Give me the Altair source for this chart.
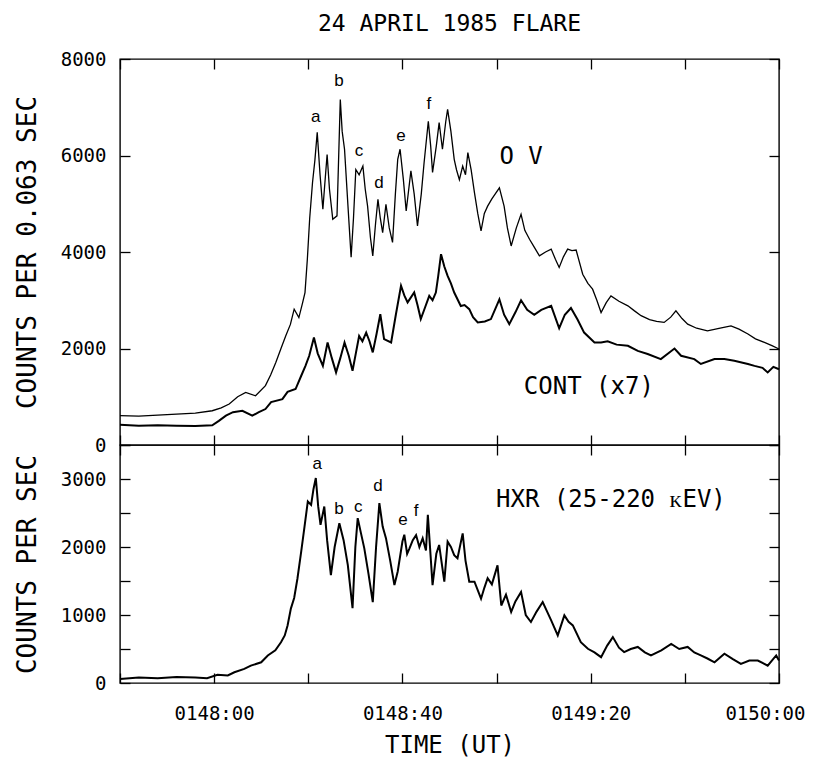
import altair as alt
import pandas as pd

# time axis: seconds after 01:47:40 UT
ov = [(0, 610), (4, 600), (8, 620), (12, 640), (16, 660), (19.6, 710), (21.5, 770), (23.2, 850),
      (25, 1000), (26.7, 1090), (28.8, 1020), (30.9, 1230), (32, 1450), (33.1, 1710), (34.2, 2000),
      (35.2, 2260), (36.2, 2500), (37, 2815), (38, 2640), (38.8, 2950), (39.3, 3160), (39.8, 3850),
      (40.3, 4700), (40.9, 5440), (41.4, 5900), (41.9, 6480), (42.5, 5600), (43.1, 4885), (43.5, 5400),
      (44, 6020), (44.5, 5300), (45.2, 4680), (46.1, 4750), (46.8, 7160), (47.2, 6500), (47.7, 6130),
      (48.4, 5000), (49.1, 3890), (49.6, 4700), (50.1, 5710), (50.8, 5600), (51.6, 5780), (52.1, 5300),
      (52.6, 4950), (53.2, 4300), (53.7, 3920), (54.3, 4600), (54.8, 5090), (55.3, 4700), (55.8, 4400),
      (56.5, 4990), (57.2, 4500), (57.9, 4200), (58.5, 5200), (59.0, 5920), (59.5, 6130), (60.2, 5500),
      (60.8, 4850), (61.8, 5680), (62.5, 5200), (63.2, 4540), (64.0, 5200), (64.6, 5850), (65.5, 6710),
      (66.0, 6200), (66.4, 5650), (67.2, 6200), (67.8, 6680), (68.5, 6130), (69.2, 6700), (69.6, 6955),
      (70.3, 6500), (71.0, 5920), (71.5, 5700), (72.1, 5500), (72.8, 5780), (73.4, 5600), (73.9, 6060),
      (74.6, 5700), (75.3, 5230), (76.0, 4800), (76.7, 4440), (77.4, 4800), (78.1, 4950), (79.0, 5100),
      (80.6, 5330), (81.6, 4950), (82.3, 4500), (83.1, 4125), (84.2, 4500), (85.2, 4780), (86.0, 4450),
      (87.0, 4265), (88.0, 4100), (89.1, 3920), (90.4, 4000), (91.6, 4060), (92.5, 3850), (93.3, 3680),
      (94.2, 3900), (95.1, 4060), (96.0, 4030), (96.9, 4040), (98.3, 3540), (99.4, 3350), (100.4, 3230),
      (101.3, 3000), (102.2, 2745), (103.3, 2950), (104.3, 3090), (106.0, 2980), (107.9, 2885),
      (109.3, 2780), (110.7, 2680), (112.5, 2600), (114.0, 2560), (115.6, 2540), (117.0, 2650),
      (118.1, 2780), (119.4, 2620), (120.6, 2505), (122.5, 2420), (124.8, 2365), (127.5, 2420),
      (129.8, 2470), (131.5, 2400), (133.4, 2300), (135.0, 2200), (136.9, 2125), (138.5, 2060), (140, 1990)]

cont = [(0, 420), (4, 400), (8, 410), (12, 400), (16, 395), (19.6, 410), (21, 500), (22.5, 607), (24, 680),
        (26, 710), (28.1, 607), (29.5, 680), (30.9, 745), (32.1, 890), (34.5, 950), (35.6, 1100), (37.3, 1160),
        (38.5, 1435), (39.4, 1640), (40.2, 1850), (41.2, 2230), (42, 1900), (43.1, 1640), (44.1, 2125),
        (45, 1800), (45.9, 1505), (46.8, 1800), (47.7, 2125), (48.6, 1850), (49.4, 1540), (50.1, 1900),
        (50.8, 2260), (51.5, 2150), (52.3, 2330), (53, 2150), (53.7, 1920), (54.5, 2300), (55.3, 2710),
        (56.1, 2195), (57.6, 2125), (58.6, 2700), (59.7, 3300), (60.4, 3100), (61.1, 2955), (62.5, 3160),
        (63.2, 2900), (63.9, 2610), (64.8, 2850), (65.7, 3090), (66.4, 3000), (67.1, 3160), (67.6, 3500),
        (68.2, 3955), (68.9, 3700), (69.6, 3505), (70.3, 3350), (71, 3160), (72.4, 2880), (73.2, 2900),
        (74.2, 2815), (75, 2650), (76, 2540), (77.5, 2560), (78.8, 2610), (80.6, 3020), (81.6, 2700),
        (82.7, 2505), (84, 2750), (85.2, 3000), (86.5, 2800), (88, 2700), (89.5, 2800), (91.6, 2885),
        (93.3, 2420), (94.5, 2700), (95.8, 2840), (97.2, 2600), (98.6, 2330), (100.8, 2125), (102.2, 2125),
        (103.6, 2150), (105.5, 2080), (107.9, 2055), (110, 1950), (112.1, 1885), (114.9, 1780), (117.8, 2000),
        (119.2, 1850), (122, 1780), (123.4, 1680), (126.3, 1780), (128.4, 1780), (130.5, 1745), (133.4, 1680),
        (134.8, 1640), (136.5, 1600), (137.6, 1505), (138.8, 1620), (140, 1570)]

hxr = [(0, 60), (4, 80), (8, 70), (12, 90), (16, 80), (18.5, 70), (20.7, 120), (22.9, 110), (24.3, 158),
       (26.4, 207), (27.8, 256), (30, 305), (31.4, 404), (33, 480), (34.2, 600), (35, 700), (35.6, 847),
       (36.3, 1094), (37, 1250), (37.7, 1537), (38.5, 1935), (39.2, 2300), (39.9, 2670), (40.6, 2620),
       (41.1, 2850), (41.6, 3015), (42.1, 2600), (42.6, 2325), (43.4, 2595), (44, 2100), (44.8, 1585),
       (45.6, 2000), (46.6, 2350), (47.5, 2100), (48.4, 1735), (49.4, 1100), (50, 2000), (50.5, 2425),
       (51.2, 2200), (51.9, 1980), (52.8, 1600), (53.7, 1190), (54.4, 2000), (55.1, 2645), (55.8, 2300),
       (56.5, 2130), (57.4, 1800), (58.3, 1440), (59, 1640), (60, 2080), (60.4, 2180), (61, 1900),
       (61.5, 1980), (62.2, 2100), (62.9, 2175), (63.6, 2000), (64.3, 2130), (65, 1950), (65.4, 2475),
       (66.4, 1440), (67.2, 1900), (67.8, 2030), (68.9, 1490), (69.6, 2080), (70.3, 2000), (71, 1880),
       (71.7, 1835), (72.8, 2200), (73.4, 1800), (74.2, 1490), (75.3, 1490), (76.7, 1240), (77.4, 1400),
       (78.1, 1540), (79, 1450), (80.2, 1730), (81, 1140), (82, 1300), (83.1, 1045), (84, 1200), (85.2, 1340),
       (86.2, 1000), (87.3, 897), (88.5, 1050), (89.8, 1190), (91.6, 920), (93, 700), (94.4, 995), (95.3, 900),
       (96.2, 847), (97.9, 600), (99.4, 503), (100.8, 450), (102.2, 380), (103.5, 550), (104.7, 675),
       (106, 520), (107.1, 455), (108.5, 500), (110, 530), (111.5, 450), (112.8, 405), (115, 480),
       (117.1, 575), (118.8, 500), (120.6, 530), (122, 450), (123.4, 405), (124.8, 360), (126.3, 305),
       (128.4, 430), (130.2, 350), (131.9, 280), (133.7, 330), (135.5, 330), (137.6, 255), (139.4, 405),
       (140, 330)]

top_letters = ["a", "b", "c", "d", "e", "f"]
top_letter_t = [41.6, 46.5, 50.8, 55.0, 59.7, 65.6]
top_letter_v = [6790, 7535, 6085, 5440, 6400, 7060]
bot_letters = ["a", "b", "c", "d", "e", "f"]
bot_letter_t = [41.9, 46.5, 50.6, 54.8, 60.1, 62.9]
bot_letter_v = [3220, 2555, 2590, 2900, 2395, 2530]

top_labels = ["O V", "CONT (x7)"]
top_label_t = [85.2, 99.6]
top_label_v = [5960, 1200]
bot_labels = ["HXR (25-220 \u1d0bEV)"]
bot_label_t = [104.3]
bot_label_v = [2690]

x_ticks = [0, 20, 40, 60, 80, 100, 120, 140]
x_tick_labels = ["", "0148:00", "", "0148:40", "", "0149:20", "", "0150:00"]
top_y_ticks = [0, 2000, 4000, 6000, 8000]
bot_y_ticks = [0, 500, 1000, 1500, 2000, 2500, 3000, 3500]
bot_y_tick_labels = ["0", "", "1000", "", "2000", "", "3000", ""]

MONO = "DejaVu Sans Mono"
SANS = "Liberation Sans"
W, H_TOP, H_BOT, TL = 659, 386, 238, 10

df_ov = pd.DataFrame(ov, columns=["t", "v"])
df_cont = pd.DataFrame(cont, columns=["t", "v"])
df_hxr = pd.DataFrame(hxr, columns=["t", "v"])
df_tl = pd.DataFrame({"t": top_letter_t, "v": top_letter_v, "s": top_letters})
df_bl = pd.DataFrame({"t": bot_letter_t, "v": bot_letter_v, "s": bot_letters})
df_tlab = pd.DataFrame({"t": top_label_t, "v": top_label_v, "s": top_labels})
df_blab = pd.DataFrame({"t": bot_label_t, "v": bot_label_v, "s": bot_labels})

xs = alt.Scale(domain=[0, 140], nice=False, zero=False)
ys_top = alt.Scale(domain=[0, 8000], nice=False)
ys_bot = alt.Scale(domain=[0, 3500], nice=False)

x_label_expr = "[" + ",".join("'%s'" % s for s in x_tick_labels) + "][round(datum.value/20)]"
by_label_expr = "[" + ",".join("'%s'" % s for s in bot_y_tick_labels) + "][round(datum.value/500)]"

ax_common = dict(ticks=False, domain=False, grid=False, labelFont=MONO, labelFontSize=19, labelColor="black",
                 titleFont=MONO, titleFontWeight="normal", titleColor="black")


def tick_axis(orient, values):
    # outward ticks on an axis pulled inside the frame by their own length -> inward ticks
    return alt.Axis(orient=orient, values=values, labels=False, domain=False, grid=False, ticks=True,
                    tickSize=TL, tickWidth=1.3, tickColor="black", offset=-TL, title=None, zindex=1)


top_y_lab = alt.Axis(orient="left", values=top_y_ticks, format="d", labelPadding=14,
                     title="COUNTS PER 0.063 SEC", titleFontSize=26, titlePadding=20, **ax_common)
bot_y_lab = alt.Axis(orient="left", values=bot_y_ticks, labelExpr=by_label_expr, labelPadding=14,
                     title="COUNTS PER SEC", titleFontSize=26, titlePadding=20, **ax_common)
bot_x_lab = alt.Axis(orient="bottom", values=x_ticks, labelExpr=x_label_expr, labelPadding=21,
                     labelFlush=True, labelFlushOffset=26,
                     title="TIME (UT)", titleFontSize=24, titlePadding=10, **ax_common)


def enc(ys, x_axis, y_axis):
    return dict(x=alt.X("t:Q", scale=xs, axis=x_axis), y=alt.Y("v:Q", scale=ys, axis=y_axis))


def line(df, width, ys, x_axis, y_axis):
    return alt.Chart(df).mark_line(color="black", strokeWidth=width).encode(**enc(ys, x_axis, y_axis))


def texts(df, font, size, ys, x_axis=None, y_axis=None):
    return alt.Chart(df).mark_text(font=font, fontSize=size, color="black", baseline="middle",
                                   align="center").encode(text="s:N", **enc(ys, x_axis, y_axis))


top = alt.layer(
    line(df_ov, 1.3, ys_top, tick_axis("bottom", x_ticks), top_y_lab),
    line(df_cont, 2.0, ys_top, tick_axis("top", x_ticks), tick_axis("left", top_y_ticks)),
    texts(df_tl, SANS, 17, ys_top, None, tick_axis("right", top_y_ticks)),
    texts(df_tlab, MONO, 24, ys_top),
).resolve_axis(x="independent", y="independent").properties(
    width=W, height=H_TOP,
    title=alt.TitleParams("24 APRIL 1985 FLARE", font=MONO, fontSize=23, fontWeight="normal", color="black",
                          anchor="middle", frame="group", offset=14),
)

bottom = alt.layer(
    line(df_hxr, 2.0, ys_bot, bot_x_lab, bot_y_lab),
    texts(df_bl, SANS, 17, ys_bot, tick_axis("bottom", x_ticks), tick_axis("left", bot_y_ticks)),
    texts(df_blab, MONO, 24, ys_bot, tick_axis("top", x_ticks), tick_axis("right", bot_y_ticks)),
).resolve_axis(x="independent", y="independent").properties(width=W, height=H_BOT)

chart = alt.vconcat(top, bottom, spacing=0, bounds="flush").properties(
    padding={"left": 5, "top": 4, "right": 0, "bottom": 0}
).configure_view(stroke="black", strokeWidth=1.4)

chart.save("out.html", embed_options={"renderer": "svg", "actions": False})
